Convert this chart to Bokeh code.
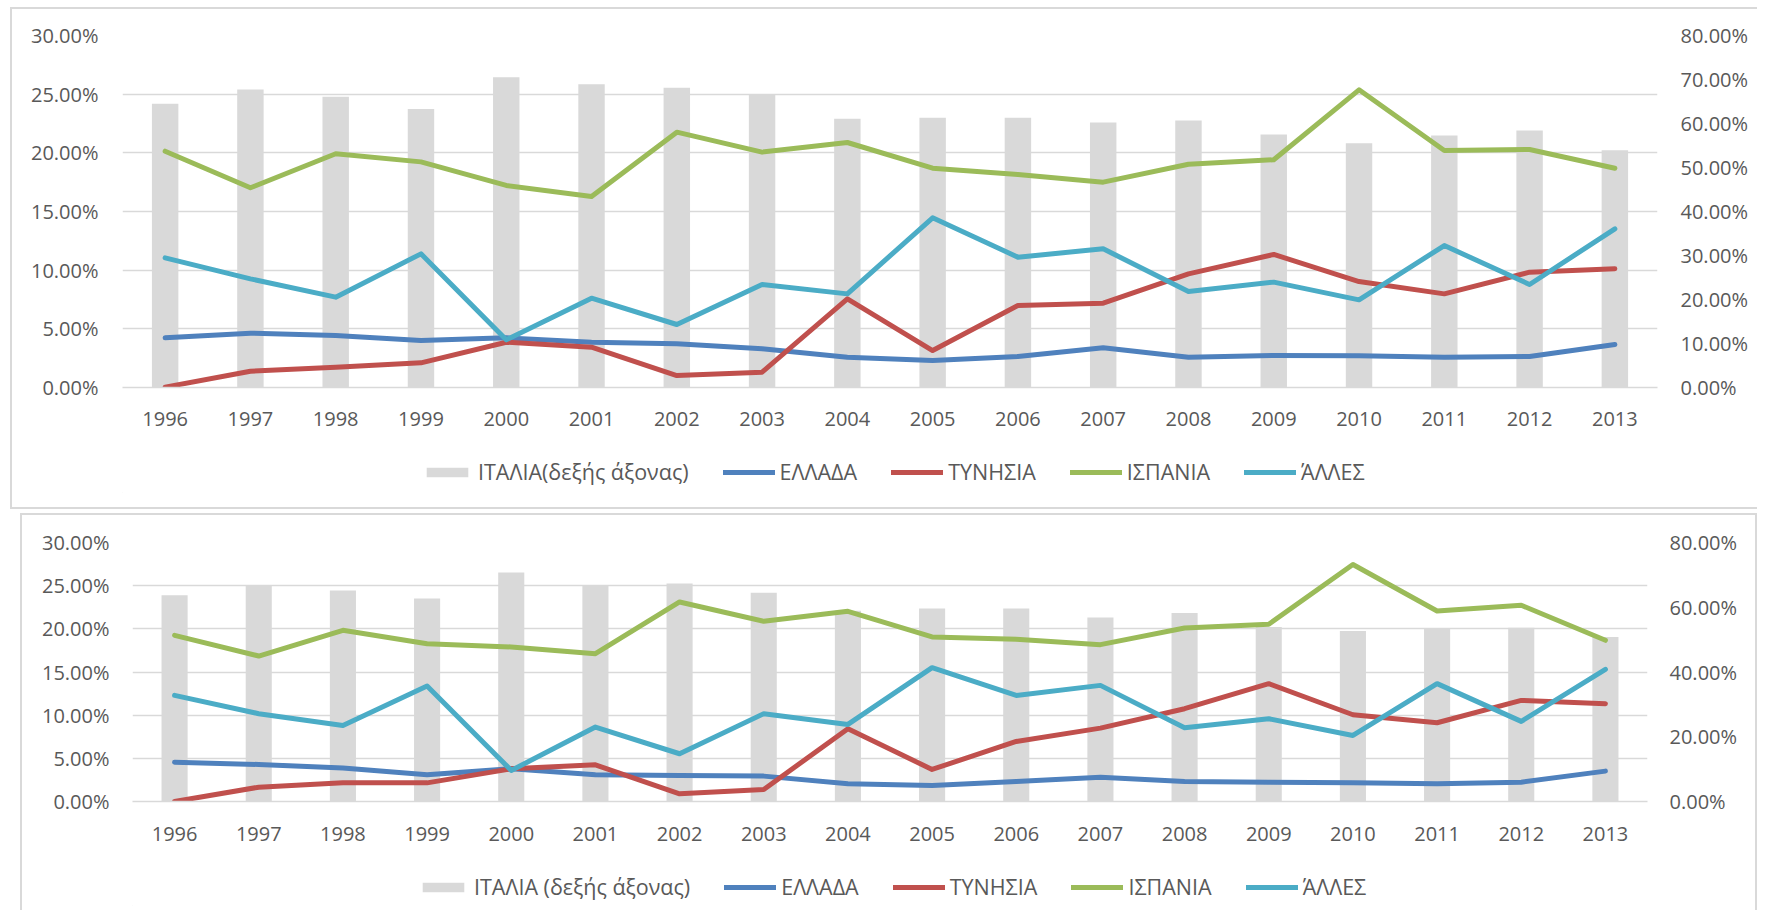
from bokeh.plotting import figure
from bokeh.models import (FactorRange, Range1d, LinearAxis, FixedTicker, NumeralTickFormatter,
                          Legend, LegendItem, ColumnDataSource, Spacer)
from bokeh.layouts import column, row
from bokeh.embed import file_html
from bokeh.resources import INLINE

years = ["1996", "1997", "1998", "1999", "2000", "2001", "2002", "2003", "2004",
         "2005", "2006", "2007", "2008", "2009", "2010", "2011", "2012", "2013"]

# Top chart (percent values)
italy_top = [64.5, 67.7, 66.1, 63.3, 70.5, 68.9, 68.1, 66.6, 61.1, 61.3, 61.3, 60.2, 60.7, 57.5, 55.5, 57.3, 58.4, 53.9]
greece_top = [4.23, 4.63, 4.43, 4.01, 4.23, 3.86, 3.72, 3.30, 2.58, 2.30, 2.64, 3.38, 2.58, 2.73, 2.70, 2.58, 2.64, 3.66]
tunisia_top = [0.03, 1.39, 1.73, 2.10, 3.86, 3.44, 1.02, 1.31, 7.56, 3.15, 6.99, 7.19, 9.68, 11.34, 9.03, 7.98, 9.83, 10.12]
spain_top = [20.14, 17.02, 19.92, 19.23, 17.22, 16.28, 21.76, 20.06, 20.88, 18.69, 18.15, 17.50, 19.03, 19.41, 25.37, 20.20, 20.28, 18.69]
others_top = [11.05, 9.26, 7.70, 11.39, 4.06, 7.61, 5.37, 8.78, 7.98, 14.46, 11.11, 11.82, 8.18, 8.98, 7.47, 12.10, 8.78, 13.52]

# Bottom chart (percent values)
italy_bot = [63.7, 66.8, 65.2, 62.7, 70.7, 66.8, 67.3, 64.5, 58.9, 59.6, 59.6, 56.8, 58.2, 53.9, 52.7, 53.4, 53.7, 50.8]
greece_bot = [4.56, 4.29, 3.87, 3.09, 3.79, 3.09, 3.02, 2.94, 2.05, 1.86, 2.32, 2.82, 2.32, 2.24, 2.16, 2.05, 2.24, 3.52]
tunisia_bot = [0.0, 1.66, 2.16, 2.16, 3.79, 4.25, 0.89, 1.39, 8.43, 3.71, 6.96, 8.50, 10.75, 13.65, 10.05, 9.12, 11.71, 11.33]
spain_bot = [19.25, 16.85, 19.83, 18.28, 17.90, 17.12, 23.11, 20.87, 22.03, 19.06, 18.79, 18.17, 20.10, 20.53, 27.45, 22.07, 22.73, 18.67]
others_bot = [12.29, 10.17, 8.81, 13.38, 3.60, 8.62, 5.53, 10.17, 8.93, 15.50, 12.29, 13.45, 8.55, 9.59, 7.65, 13.65, 9.28, 15.31]

left_ticks = [0.0, 0.05, 0.10, 0.15, 0.20, 0.25, 0.30]
right_ticks_top = [0.0, 0.1, 0.2, 0.3, 0.4, 0.5, 0.6, 0.7, 0.8]
right_ticks_bot = [0.0, 0.2, 0.4, 0.6, 0.8]

labels_top = ["ΙΤΑΛΙΑ(δεξής άξονας)", "ΕΛΛΑΔΑ", "ΤΥΝΗΣΙΑ", "ΙΣΠΑΝΙΑ", "ΆΛΛΕΣ"]
labels_bot = ["ΙΤΑΛΙΑ (δεξής άξονας)", "ΕΛΛΑΔΑ", "ΤΥΝΗΣΙΑ", "ΙΣΠΑΝΙΑ", "ΆΛΛΕΣ"]

BAR = "#D9D9D9"
COLORS = ["#4F81BD", "#C0504D", "#9BBB59", "#4BACC6"]
TXT = "#595959"
FONT = "Open Sans"


def make_chart(italy, series, right_ticks, fw, fh, b_left, b_right, b_top, b_bottom,
               lstand, rstand, xstand):
    src = ColumnDataSource(dict(
        year=years,
        italy=[v / 100 for v in italy],
        s0=[v / 100 for v in series[0]],
        s1=[v / 100 for v in series[1]],
        s2=[v / 100 for v in series[2]],
        s3=[v / 100 for v in series[3]],
    ))
    p = figure(x_range=FactorRange(*years, range_padding=0), y_range=Range1d(0, 0.30),
               frame_width=fw, frame_height=fh, output_backend="svg", toolbar_location=None,
               min_border_left=b_left, min_border_right=b_right, min_border_top=b_top,
               min_border_bottom=b_bottom, background_fill_color=None, border_fill_color=None)
    p.outline_line_color = None
    p.extra_y_ranges = {"right": Range1d(0, 0.80)}

    p.yaxis.ticker = FixedTicker(ticks=left_ticks)
    p.yaxis.formatter = NumeralTickFormatter(format="0.00%")
    raxis = LinearAxis(y_range_name="right", ticker=FixedTicker(ticks=right_ticks),
                       formatter=NumeralTickFormatter(format="0.00%"))
    p.add_layout(raxis, "right")
    for ax, st in [(p.yaxis[0], lstand), (raxis, rstand), (p.xaxis[0], xstand)]:
        ax.major_tick_line_color = None
        ax.minor_tick_line_color = None
        ax.major_tick_out = 0
        ax.major_tick_in = 0
        ax.minor_tick_out = 0
        ax.major_label_text_font = FONT
        ax.major_label_text_font_size = "20px"
        ax.major_label_text_color = TXT
        ax.major_label_standoff = st
    p.yaxis[0].axis_line_color = None
    raxis.axis_line_color = None
    p.xaxis.axis_line_color = BAR
    p.xaxis.axis_line_width = 1.5
    p.xgrid.grid_line_color = None
    p.ygrid.grid_line_color = BAR
    p.ygrid.grid_line_width = 1.5

    p.vbar(x="year", top="italy", width=0.31, source=src, y_range_name="right",
           fill_color=BAR, line_color=None)
    for i, c in enumerate(COLORS):
        p.line(x="year", y=f"s{i}", source=src, line_color=c, line_width=5,
               line_cap="round", line_join="round")
    return p


def make_legend(labels, fw, b_left, b_right, b_top, b_bottom, loc):
    lg = figure(frame_width=fw, frame_height=40, x_range=Range1d(0, 1), y_range=Range1d(0, 1),
                x_axis_location=None, y_axis_location=None, output_backend="svg",
                toolbar_location=None, min_border_left=b_left, min_border_top=b_top,
                min_border_right=b_right, min_border_bottom=b_bottom,
                background_fill_color=None, border_fill_color=None)
    lg.outline_line_color = None
    lg.grid.visible = False
    # legend-only renderers: their points lie outside the visible range
    hidden = ColumnDataSource(dict(x=[-5, -4], y=[-5, -4]))
    rends = [lg.vbar(x="x", top="y", width=0.3, source=hidden, fill_color=BAR, line_color=None)]
    for c in COLORS:
        rends.append(lg.line(x="x", y="y", source=hidden, line_color=c, line_width=5,
                             line_cap="round", line_join="round"))
    legend = Legend(items=[LegendItem(label=l, renderers=[r]) for l, r in zip(labels, rends)],
                    orientation="horizontal", location=loc, glyph_width=52, glyph_height=12,
                    label_standoff=5, spacing=34, padding=0, margin=0, border_line_color=None,
                    background_fill_alpha=0, label_text_font=FONT, label_text_font_size="21.5px",
                    label_text_color=TXT)
    lg.add_layout(legend)
    return lg


p1 = make_chart(italy_top, [greece_top, tunisia_top, spain_top, others_top], right_ticks_top,
                fw=1535, fh=352, b_left=112, b_right=100, b_top=28, b_bottom=60,
                lstand=24, rstand=23, xstand=24)
l1 = make_legend(labels_top, 1535, 112, 100, 5, 17, (299, 6))

p2 = make_chart(italy_bot, [greece_bot, tunisia_bot, spain_bot, others_bot], right_ticks_bot,
                fw=1515, fh=259, b_left=112, b_right=110, b_top=29, b_bottom=60,
                lstand=23, rstand=22, xstand=25)
l2 = make_legend(labels_bot, 1515, 112, 110, 4, 5, (285, 4))

top_block = column(p1, l1, spacing=0,
                   styles={"box-shadow": "inset 2px 0 0 #D9D9D9, inset 0 2px 0 #D9D9D9, inset 0 -2px 0 #D9D9D9"})
bot_block = column(p2, l2, spacing=0,
                   styles={"box-shadow": "inset 2px 0 0 #D9D9D9, inset -2px 0 0 #D9D9D9, inset 0 2px 0 #D9D9D9"})

layout = column(Spacer(height=7),
                row(Spacer(width=10), top_block, spacing=0),
                Spacer(height=4),
                row(Spacer(width=20), bot_block, spacing=0),
                spacing=0)
open("out.html", "w").write(file_html(layout, INLINE))
